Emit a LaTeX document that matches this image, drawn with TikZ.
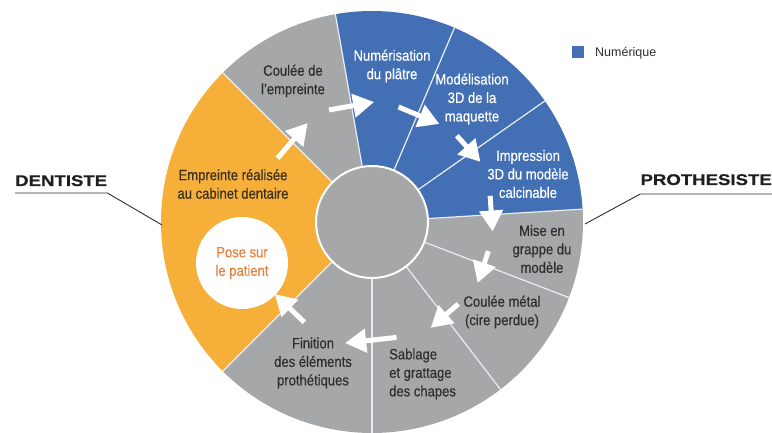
\documentclass[tikz,border=0pt]{standalone}
\usepackage{fontspec}
\setmainfont{Liberation Sans}[FakeStretch=0.87, FakeBold=0.4]
\newfontfamily\headfont{Liberation Sans}[FakeStretch=1.2, FakeBold=0.5]
\newfontfamily\legfont{Liberation Sans}
\usetikzlibrary{arrows.meta,calc}
\definecolor{cOr}{HTML}{F6B03A}
\definecolor{cGr}{HTML}{A6A7A9}
\definecolor{cBl}{HTML}{4370B4}
\definecolor{cTxt}{HTML}{2E2E2E}
\definecolor{cBrown}{HTML}{3A3020}
\definecolor{cPose}{HTML}{E5813C}
\definecolor{cDiv}{HTML}{E9EEF4}
\tikzset{
  lbl/.style={align=center, inner sep=0pt, font=\fontsize{15}{18.5}\selectfont, text=cTxt},
  wlbl/.style={lbl, text=white},
  divider/.style={draw=cDiv, line width=1.2pt},
  flow/.style={draw=white, line width=5pt, -{Triangle[width=23pt,length=21pt]}},
  leader/.style={draw=cTxt, line width=0.9pt},
  headlbl/.style={inner sep=0pt, font=\headfont\bfseries\fontsize{15.5}{18}\selectfont, text=black!88}
}
\begin{document}
\begin{tikzpicture}[x=1pt,y=1pt]
\useasboundingbox (0,0) rectangle (772,433);
\def\R{211}
\coordinate (c) at (372,211);
% sectors
\foreach \a/\b/\col in {135/225/cOr,225/270/cGr,270/307.5/cGr,307.5/339/cGr,339/363.5/cGr,3.5/35/cBl,35/67/cBl,67/100/cBl,100/135/cGr}
  \fill[\col] (c) -- ($(c)+(\a:\R)$) arc[start angle=\a, end angle=\b, radius=\R] -- cycle;
% dividers
\foreach \a in {135,225,270,307.5,339,3.5,35,67,100}
  \draw[divider] ($(c)+(\a:50)$) -- ($(c)+(\a:\R)$);
% hub
\node[circle, fill=cGr, draw=white, line width=2pt, minimum size=112pt, inner sep=0pt] (hub) at (c) {};
% pose circle
\node[circle, fill=white, minimum size=92pt, inner sep=0pt, lbl, text=cPose] (pose) at (242,170) {Pose sur\\le patient};
% labels
\node[lbl, text=cBrown] (s1) at (233,249) {Empreinte réalisée\\au cabinet dentaire};
\node[lbl] (s2) at (293,352) {Coulée de\\l'empreinte};
\node[wlbl] (s3) at (392,367) {Numérisation\\du plâtre};
\node[wlbl] (s4) at (472,334) {Modélisation\\3D de la\\maquette};
\node[wlbl] (s5) at (528,259) {Impression\\3D du modèle\\calcinable};
\node[lbl] (s6) at (542,184) {Mise en\\grappe du\\modèle};
\node[lbl] (s7) at (502,121) {Coulée métal\\(cire perdue)};
\node[lbl, align=left, anchor=west] (s8) at (389,59) {Sablage\\et grattage\\des chapes};
\node[lbl] (s9) at (313,70) {Finition\\des éléments\\prothétiques};
% arrow coordinates
\coordinate (a1s) at ($(c)+(146:114)$);   \coordinate (a1t) at ($(c)+(123:118)$);
\coordinate (a2s) at ($(c)+(111:120)$);   \coordinate (a2t) at ($(c)+(89:120)$);
\coordinate (a3s) at ($(c)+(77:118)$);    \coordinate (a3t) at ($(c)+(55.5:119)$);
\coordinate (a4s) at ($(c)+(45.5:121)$);  \coordinate (a4t) at ($(c)+(29:124)$);
\coordinate (a5s) at ($(c)+(12.5:121)$);  \coordinate (a5t) at ($(c)+(-4.5:121)$);
\coordinate (a6s) at ($(c)+(-14:120)$);   \coordinate (a6t) at ($(c)+(-30:122)$);
\coordinate (a7s) at ($(c)+(-43.5:119)$); \coordinate (a7t) at ($(c)+(-61:121)$);
\coordinate (a8s) at ($(c)+(-78:118)$);   \coordinate (a8t) at ($(c)+(-102.5:124)$);
\coordinate (a9s) at ($(c)+(-124:121)$);  \coordinate (a9t) at ($(c)+(-143.5:121)$);
\foreach \i in {1,...,9} \draw[flow] (a\i s) -- (a\i t);
% side labels
\node[headlbl, anchor=base west] (dent) at (15,247) {DENTISTE};
\coordinate (dentEnd) at (162,208);
\draw[leader] ($(dent.base west)+(0,-7)$) -- ($(dent.base east)+(0,-7)$) -- (dentEnd);
\node[headlbl, anchor=base east] (prot) at (772,248) {PROTHESISTE};
\coordinate (protEnd) at (585,209);
\draw[leader] ($(prot.base east)+(0,-9)$) -- ($(prot.base west)+(0,-9)$) -- (protEnd);
% legend
\node[fill=cBl, minimum size=12pt, inner sep=0pt] (legsq) at (578,381) {};
\node[anchor=west, inner sep=0pt, font=\legfont\fontsize{12.5}{14}\selectfont, text=cTxt] (leg) at (595,380) {Numérique};
\end{tikzpicture}
\end{document}
